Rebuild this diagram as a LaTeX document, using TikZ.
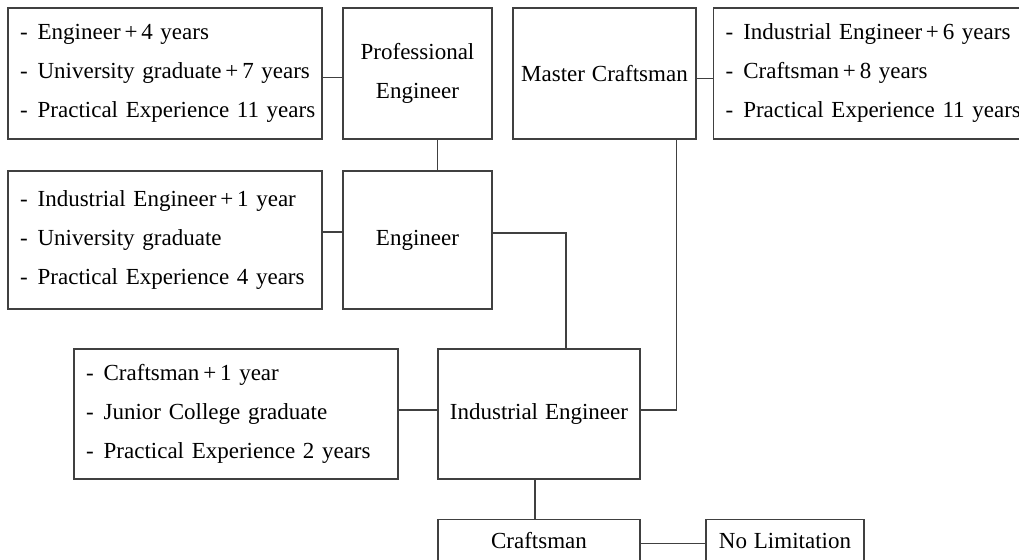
\documentclass[tikz,border=0pt]{standalone}
\usepackage{fontspec}
\setmainfont{Liberation Serif}[WordSpace=1.2]
\usetikzlibrary{positioning}

\newcommand{\reqline}[1]{\mbox{-\hspace{10pt}#1}}
\newcommand{\plus}{\,+\,}

\begin{document}
\begin{tikzpicture}[x=1pt,y=-1pt,
  box/.style={draw=black!75, line width=1.3pt, inner sep=0pt,
    font=\fontsize{23}{39}\selectfont, align=center},
  reqbox/.style={box, align=left, inner xsep=12pt},
  link/.style={draw=black!75, line width=1.3pt}]
\clip (0,0) rectangle (1019,559);

\node [reqbox, text width=290, minimum height=131] (pereq) at (165,73.5)
  {\reqline{Engineer\plus4 years}\\ \reqline{University graduate\plus7 years}\\ \reqline{Practical Experience 11 years}};
\node [box, minimum width=149, minimum height=131] (pe) at (417.5,73.5) {Professional\\Engineer};
\node [box, minimum width=183, minimum height=131] (mc) at (604.5,73.5) {Master Craftsman};
\node [reqbox, text width=293, minimum height=131, anchor=west] (mcreq) at (713,73.5)
  {\reqline{Industrial Engineer\plus6 years}\\ \reqline{Craftsman\plus8 years}\\ \reqline{Practical Experience 11 years}};

\node [reqbox, text width=290, minimum height=138] (engreq) at (165,240)
  {\reqline{Industrial Engineer\plus1 year}\\ \reqline{University graduate}\\ \reqline{Practical Experience 4 years}};
\node [box, minimum width=149, minimum height=138] (eng) at (417.5,240) {Engineer};

\node [reqbox, text width=300, minimum height=130] (iereq) at (236,414)
  {\reqline{Craftsman\plus1 year}\\ \reqline{Junior College graduate}\\ \reqline{Practical Experience 2 years}};
\node [box, minimum width=202, minimum height=130] (ie) at (539,414) {Industrial Engineer};

\node [box, minimum width=202, inner ysep=13pt, text height=16pt, text depth=5pt, anchor=north] (cm) at (539,519) {Craftsman};
\node [box, minimum width=158, inner ysep=13pt, text height=16pt, text depth=5pt, anchor=north] (nolim) at (785,519) {No Limitation};

\draw [link] ([yshift=-4]pereq.east) -- ([yshift=-4]pe.west);
\draw [link] ([xshift=20]pe.south) -- ([xshift=20]eng.north);
\draw [link] ([yshift=-5]mc.east) -- ([yshift=-5]mcreq.west);
\draw [link] ([yshift=8]engreq.east) -- ([yshift=8]eng.west);
\draw [link] ([yshift=7]eng.east) -| ([xshift=27]ie.north);
\draw [link] ([xshift=72]mc.south) |- ([yshift=4]ie.east);
\draw [link] ([yshift=4]iereq.east) -- ([yshift=4]ie.west);
\draw [link] ([xshift=-4]ie.south) -- ([xshift=-4]cm.north);
\draw [link] (cm.east) -- (nolim.west);
\end{tikzpicture}
\end{document}
